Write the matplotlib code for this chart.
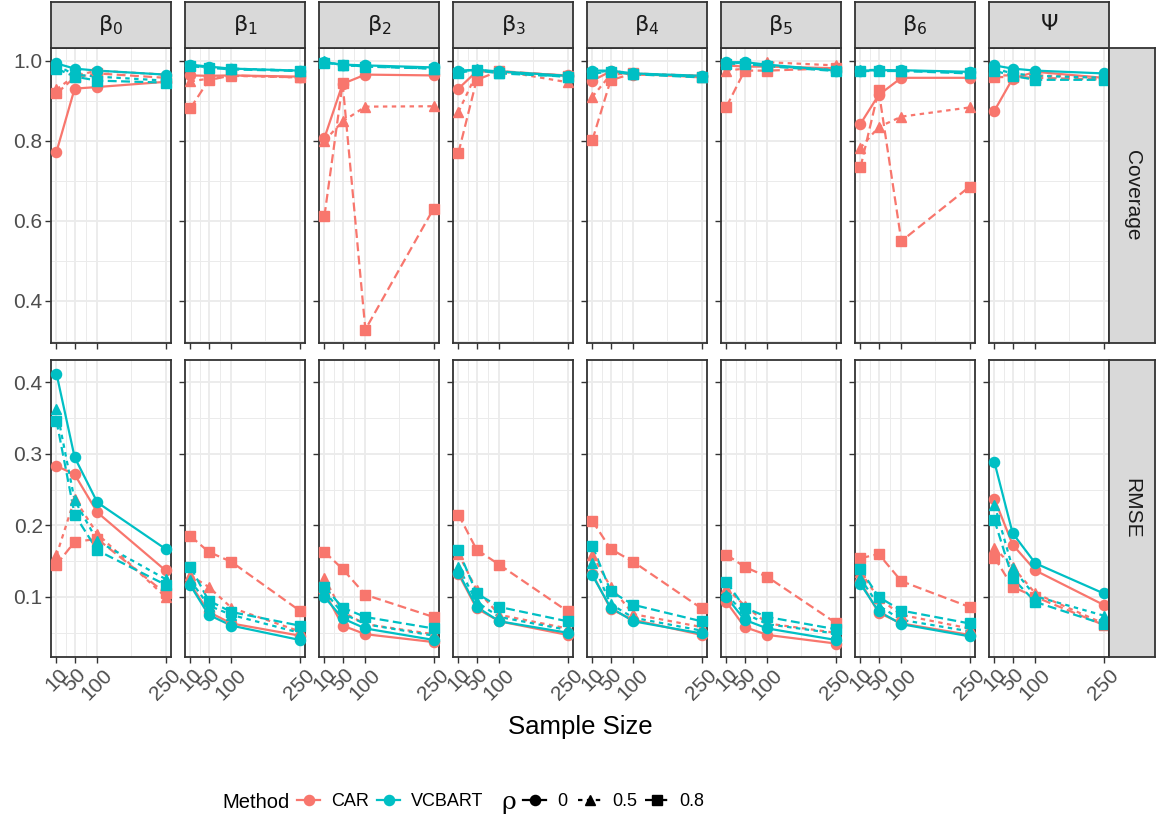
import numpy as np
import matplotlib
matplotlib.use("Agg")
import matplotlib.pyplot as plt
from matplotlib.lines import Line2D


sample_sizes = [10, 50, 100, 250]
params = [r"$\mathrm{\beta}_0$", r"$\mathrm{\beta}_1$", r"$\mathrm{\beta}_2$", r"$\mathrm{\beta}_3$",
          r"$\mathrm{\beta}_4$", r"$\mathrm{\beta}_5$", r"$\mathrm{\beta}_6$", r"$\mathrm{\Psi}$"]
metrics = ["Coverage", "RMSE"]
methods = ["CAR", "VCBART"]
rhos = ["0", "0.5", "0.8"]

# rows: beta0 .. beta6, Psi ; columns: n = 10, 50, 100, 250
cov_car_r0 = [
    [0.772, 0.930, 0.934, 0.947],
    [0.963, 0.962, 0.963, 0.960],
    [0.807, 0.942, 0.965, 0.963],
    [0.930, 0.973, 0.972, 0.963],
    [0.950, 0.973, 0.965, 0.962],
    [0.988, 0.985, 0.985, 0.981],
    [0.842, 0.914, 0.957, 0.957],
    [0.875, 0.955, 0.972, 0.957],
]
cov_car_r5 = [
    [0.928, 0.962, 0.975, 0.965],
    [0.948, 0.955, 0.962, 0.958],
    [0.800, 0.848, 0.885, 0.886],
    [0.872, 0.968, 0.975, 0.946],
    [0.910, 0.965, 0.968, 0.962],
    [0.975, 0.980, 0.996, 0.988],
    [0.782, 0.834, 0.860, 0.883],
    [0.963, 0.963, 0.963, 0.958],
]
cov_car_r8 = [
    [0.918, 0.958, 0.968, 0.957],
    [0.881, 0.951, 0.963, 0.958],
    [0.612, 0.943, 0.328, 0.630],
    [0.770, 0.952, 0.974, 0.962],
    [0.802, 0.951, 0.968, 0.958],
    [0.885, 0.975, 0.975, 0.981],
    [0.733, 0.926, 0.549, 0.685],
    [0.958, 0.960, 0.957, 0.953],
]
cov_vcb_r0 = [
    [0.993, 0.980, 0.975, 0.965],
    [0.990, 0.985, 0.980, 0.975],
    [0.996, 0.990, 0.988, 0.983],
    [0.975, 0.977, 0.973, 0.962],
    [0.975, 0.975, 0.968, 0.962],
    [0.996, 0.996, 0.990, 0.975],
    [0.975, 0.976, 0.976, 0.972],
    [0.988, 0.980, 0.975, 0.968],
]
cov_vcb_r5 = [
    [0.988, 0.965, 0.960, 0.950],
    [0.988, 0.983, 0.980, 0.975],
    [0.998, 0.988, 0.986, 0.980],
    [0.972, 0.978, 0.970, 0.960],
    [0.970, 0.975, 0.967, 0.960],
    [0.994, 0.994, 0.988, 0.976],
    [0.976, 0.977, 0.975, 0.970],
    [0.980, 0.968, 0.962, 0.957],
]
cov_vcb_r8 = [
    [0.980, 0.960, 0.950, 0.945],
    [0.986, 0.982, 0.978, 0.974],
    [0.994, 0.990, 0.985, 0.980],
    [0.970, 0.976, 0.968, 0.960],
    [0.968, 0.972, 0.966, 0.958],
    [0.992, 0.992, 0.986, 0.974],
    [0.974, 0.974, 0.974, 0.968],
    [0.975, 0.962, 0.952, 0.952],
]

rmse_car_r0 = [
    [0.283, 0.271, 0.218, 0.137],
    [0.118, 0.079, 0.063, 0.046],
    [0.107, 0.060, 0.048, 0.037],
    [0.132, 0.084, 0.066, 0.047],
    [0.132, 0.083, 0.068, 0.047],
    [0.093, 0.058, 0.047, 0.035],
    [0.121, 0.078, 0.063, 0.047],
    [0.237, 0.173, 0.137, 0.089],
]
rmse_car_r5 = [
    [0.158, 0.237, 0.188, 0.100],
    [0.130, 0.114, 0.085, 0.052],
    [0.126, 0.079, 0.062, 0.048],
    [0.160, 0.110, 0.075, 0.056],
    [0.158, 0.114, 0.076, 0.058],
    [0.112, 0.088, 0.063, 0.050],
    [0.135, 0.098, 0.075, 0.056],
    [0.169, 0.142, 0.105, 0.063],
]
rmse_car_r8 = [
    [0.145, 0.177, 0.181, 0.105],
    [0.185, 0.163, 0.149, 0.081],
    [0.163, 0.139, 0.103, 0.072],
    [0.215, 0.166, 0.145, 0.080],
    [0.206, 0.167, 0.149, 0.084],
    [0.159, 0.142, 0.128, 0.064],
    [0.154, 0.160, 0.122, 0.086],
    [0.155, 0.114, 0.100, 0.061],
]
rmse_vcb_r0 = [
    [0.412, 0.295, 0.232, 0.167],
    [0.116, 0.075, 0.060, 0.040],
    [0.100, 0.070, 0.056, 0.040],
    [0.134, 0.086, 0.066, 0.050],
    [0.130, 0.085, 0.066, 0.049],
    [0.100, 0.068, 0.056, 0.040],
    [0.118, 0.080, 0.062, 0.045],
    [0.288, 0.189, 0.147, 0.105],
]
rmse_vcb_r5 = [
    [0.363, 0.235, 0.178, 0.125],
    [0.123, 0.088, 0.075, 0.050],
    [0.108, 0.077, 0.062, 0.046],
    [0.142, 0.093, 0.072, 0.054],
    [0.148, 0.090, 0.071, 0.053],
    [0.103, 0.077, 0.062, 0.049],
    [0.126, 0.088, 0.068, 0.052],
    [0.229, 0.140, 0.101, 0.074],
]
rmse_vcb_r8 = [
    [0.346, 0.215, 0.165, 0.117],
    [0.142, 0.095, 0.079, 0.060],
    [0.114, 0.085, 0.072, 0.056],
    [0.165, 0.105, 0.086, 0.066],
    [0.171, 0.108, 0.089, 0.066],
    [0.121, 0.085, 0.072, 0.055],
    [0.139, 0.100, 0.081, 0.063],
    [0.207, 0.126, 0.093, 0.062],
]

METHOD_COLORS = {"CAR": "#F8766D", "VCBART": "#00BFC4"}
RHO_STYLES = {"0": "-", "0.5": (0, (2, 2)), "0.8": (0, (4, 2))}
RHO_MARKERS = {"0": "o", "0.5": "^", "0.8": "s"}

W, H = 1162, 818


def rect(x0, y0, x1, y1):
    return [x0 / W, 1 - y1 / H, (x1 - x0) / W, (y1 - y0) / H]


def apply_plot_style():
    plt.rcParams.update({
        "font.family": ["Liberation Sans", "DejaVu Sans"],
        "mathtext.fontset": "dejavusans",
        "axes.edgecolor": "#333333",
        "axes.linewidth": 1.3,
        "xtick.color": "#333333",
        "ytick.color": "#333333",
        "xtick.labelcolor": "#4D4D4D",
        "ytick.labelcolor": "#4D4D4D",
        "xtick.labelsize": 15,
        "ytick.labelsize": 15,
        "xtick.major.size": 4,
        "ytick.major.size": 4,
        "xtick.major.width": 1.0,
        "ytick.major.width": 1.0,
        "xtick.major.pad": 2,
        "ytick.major.pad": 2,
    })


def get_series(metric):
    if metric == "Coverage":
        return {
            ("CAR", "0"): cov_car_r0, ("CAR", "0.5"): cov_car_r5, ("CAR", "0.8"): cov_car_r8,
            ("VCBART", "0"): cov_vcb_r0, ("VCBART", "0.5"): cov_vcb_r5, ("VCBART", "0.8"): cov_vcb_r8,
        }
    return {
        ("CAR", "0"): rmse_car_r0, ("CAR", "0.5"): rmse_car_r5, ("CAR", "0.8"): rmse_car_r8,
        ("VCBART", "0"): rmse_vcb_r0, ("VCBART", "0.5"): rmse_vcb_r5, ("VCBART", "0.8"): rmse_vcb_r8,
    }


def add_strip(fig, box, label, rotation=0, size=14.5):
    ax = fig.add_axes(rect(*box))
    ax.set_facecolor("#D9D9D9")
    ax.set_xticks([])
    ax.set_yticks([])
    for s in ax.spines.values():
        s.set_color("#333333")
        s.set_linewidth(1.3)
    ax.text(0.5, 0.5, label, transform=ax.transAxes, ha="center", va="center",
            rotation=rotation, fontsize=size, color="#1A1A1A")


def add_legend_entry(fig, handle, label, x_px, y):
    fig.legend([handle], [label], loc="center left", bbox_to_anchor=(x_px / W, y),
               frameon=False, handlelength=1.3, handletextpad=0.6,
               borderpad=0, borderaxespad=0, fontsize=13)


def main():
    apply_plot_style()
    fig = plt.figure(figsize=(W / 100, H / 100), dpi=100)

    row_bounds = [(48, 343), (360, 657)]
    major_ticks = {"Coverage": [0.4, 0.6, 0.8, 1.0], "RMSE": [0.1, 0.2, 0.3, 0.4]}
    minor_ticks = {"Coverage": [0.3, 0.5, 0.7, 0.9], "RMSE": [0.05, 0.15, 0.25, 0.35]}

    for r, metric in enumerate(metrics):
        series = get_series(metric)
        allv = np.concatenate([np.ravel(v) for v in series.values()])
        span = allv.max() - allv.min()
        ylim = (allv.min() - 0.05 * span, allv.max() + 0.05 * span)

        for c, pname in enumerate(params):
            x0 = 51 + c * 134
            ax = fig.add_axes(rect(x0, row_bounds[r][0], x0 + 120, row_bounds[r][1]))
            ax.set_xlim(-2, 262)
            ax.set_ylim(*ylim)
            ax.set_xticks(sample_sizes)
            ax.set_xticks([30, 75, 175], minor=True)
            ax.set_yticks(major_ticks[metric])
            ax.set_yticks(minor_ticks[metric], minor=True)
            ax.tick_params(which="minor", length=0)
            ax.grid(True, which="major", color="#EBEBEB", linewidth=1.3)
            ax.grid(True, which="minor", color="#EBEBEB", linewidth=0.7)
            ax.set_axisbelow(True)

            if c == 0:
                ax.set_yticklabels([f"{t:.1f}" for t in major_ticks[metric]])
            else:
                ax.tick_params(axis="y", labelleft=False)
            if r == 1:
                ax.set_xticklabels([str(s) for s in sample_sizes], rotation=45,
                                   ha="center", va="top")
            else:
                ax.tick_params(axis="x", labelbottom=False)

            # lines first, then points (like geom_line + geom_point)
            for method in methods:
                for rho in rhos:
                    ax.plot(sample_sizes, series[(method, rho)][c],
                            color=METHOD_COLORS[method], linestyle=RHO_STYLES[rho],
                            linewidth=1.6, zorder=2)
            for method in methods:
                for rho in rhos:
                    ax.plot(sample_sizes, series[(method, rho)][c], linestyle="none",
                            marker=RHO_MARKERS[rho], markersize=7.3,
                            color=METHOD_COLORS[method], zorder=3, clip_on=False)

            if r == 0:
                add_strip(fig, (x0, 2, x0 + 120, 48), pname, size=16)

        add_strip(fig, (1109, row_bounds[r][0], 1155, row_bounds[r][1]), metric,
                  rotation=-90, size=15)

    fig.text(580 / W, 1 - 727 / H, "Sample Size", ha="center", va="center",
             fontsize=18.5, color="black")

    # legends, one small legend per key so they sit where ggplot put them
    y_leg = 1 - 802 / H
    fig.text(222 / W, y_leg, "Method", ha="left", va="center", fontsize=14.5)
    method_x = [297, 377]
    for m, xp in zip(methods, method_x):
        h = Line2D([], [], color=METHOD_COLORS[m], marker="o", markersize=7.3, linewidth=1.6)
        add_legend_entry(fig, h, m, xp, y_leg)

    fig.text(501 / W, y_leg, "ρ", ha="left", va="center", fontsize=18,
             family=["DejaVu Serif"])
    rho_x = [523, 578, 645]
    for rho, xp in zip(rhos, rho_x):
        h = Line2D([], [], color="black", marker=RHO_MARKERS[rho], markersize=7.3,
                   linewidth=1.6, linestyle=RHO_STYLES[rho])
        add_legend_entry(fig, h, rho, xp, y_leg)

    plt.savefig("out.png", dpi=100)
    plt.close()


if __name__ == "__main__":
    main()
